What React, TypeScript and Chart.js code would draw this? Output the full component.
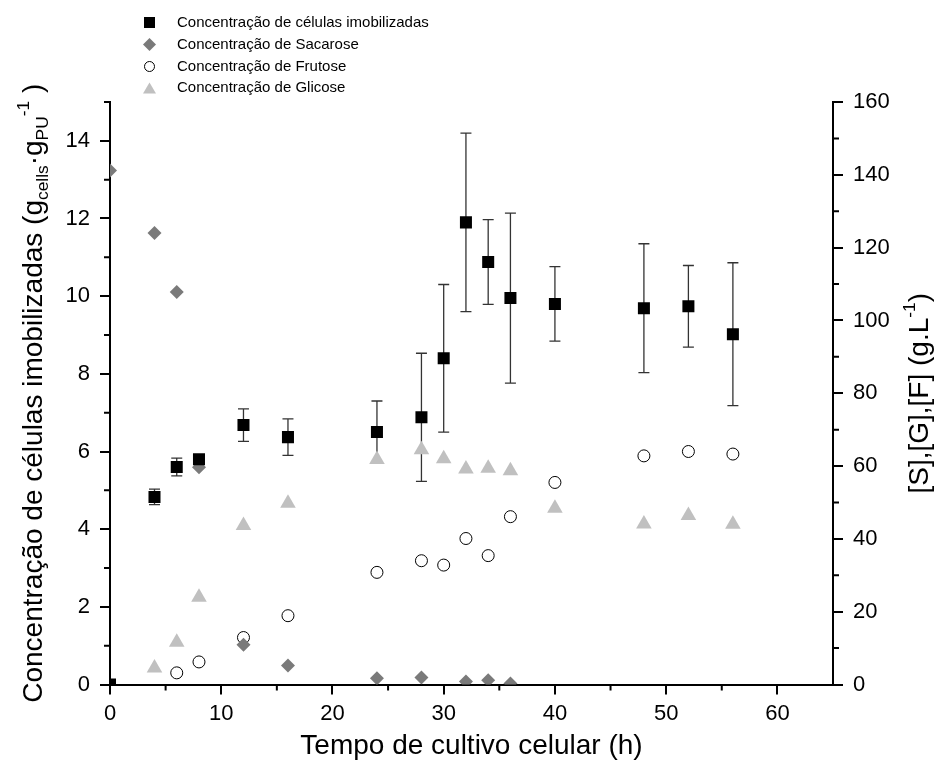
import React, { useEffect, useRef } from "react";
import { Chart, registerables } from "chart.js";

Chart.register(...registerables);

const FONT = 'Arial, "Liberation Sans", sans-serif';

// ---- data ----
const cellTimes = [0, 4, 6, 8, 12, 16, 24, 28, 30, 32, 34, 36, 40, 48, 52, 56];
const cellValues = [0, 4.83, 5.6, 5.8, 6.68, 6.37, 6.5, 6.88, 8.4, 11.9, 10.88, 9.95, 9.8, 9.69, 9.74, 9.02];
const cellErrors = [0, 0.2, 0.23, 0.1, 0.42, 0.47, 0.8, 1.65, 1.9, 2.3, 1.09, 2.19, 0.96, 1.66, 1.05, 1.84];

const sucroseTimes = [0, 4, 6, 8, 12, 16, 24, 28, 32, 34, 36];
const sucroseValues = [141.2, 124.0, 107.8, 59.7, 10.9, 5.2, 1.7, 1.9, 0.8, 1.2, 0.3];

const fructoseTimes = [6, 8, 12, 16, 24, 28, 30, 32, 34, 36, 40, 48, 52, 56];
const fructoseValues = [3.2, 6.2, 12.9, 18.9, 30.8, 34.0, 32.8, 40.1, 35.4, 46.1, 55.5, 62.8, 64.0, 63.3];

const glucoseTimes = [4, 6, 8, 12, 16, 24, 28, 30, 32, 34, 36, 40, 48, 52, 56];
const glucoseValues = [4.5, 11.6, 24.0, 43.7, 49.8, 61.8, 64.5, 62.0, 59.2, 59.4, 58.7, 48.4, 44.1, 46.4, 44.0];

const legendLabels = [
  "Concentração de células imobilizadas",
  "Concentração de Sacarose",
  "Concentração de Frutose",
  "Concentração de Glicose",
];

const xTitle = "Tempo de cultivo celular (h)";
const yTitleRuns = [
  { t: "Concentração de células imobilizadas (g" },
  { t: "cells", k: "sub" },
  { t: "·g" },
  { t: "PU", k: "sub" },
  { t: "-1", k: "sup" },
  { t: " )" },
];
const y1TitleRuns = [{ t: "[S],[G],[F] (g.L" }, { t: "-1", k: "sup" }, { t: ")" }];

const xMinorTicks = [5, 15, 25, 35, 45, 55];
const yMinorTicks = [1, 3, 5, 7, 9, 11, 13, 15];
const y1MinorTicks = [10, 30, 50, 70, 90, 110, 130, 150];

const toPoints = (xs: number[], ys: number[]) => xs.map((x, i) => ({ x, y: ys[i] }));

function drawRuns(ctx: CanvasRenderingContext2D, runs: any[], size: number) {
  let total = 0;
  const items = runs.map((r) => {
    const s = r.k ? size * 0.62 : size;
    ctx.font = `${s}px ${FONT}`;
    const w = ctx.measureText(r.t).width;
    total += w;
    return { ...r, s, w };
  });
  let x = -total / 2;
  ctx.textAlign = "left";
  ctx.textBaseline = "alphabetic";
  for (const it of items) {
    ctx.font = `${it.s}px ${FONT}`;
    const dy = it.k === "sub" ? size * 0.2 : it.k === "sup" ? -size * 0.45 : 0;
    ctx.fillText(it.t, x, dy);
    x += it.w;
  }
}

const errorBarPlugin = {
  id: "errorBars",
  beforeDatasetsDraw(chart: any) {
    const { ctx, chartArea } = chart;
    const xs = chart.scales.x;
    const ys = chart.scales.y;
    ctx.save();
    ctx.beginPath();
    ctx.rect(chartArea.left, chartArea.top, chartArea.right - chartArea.left, chartArea.bottom - chartArea.top);
    ctx.clip();
    ctx.strokeStyle = "#333";
    ctx.lineWidth = 1.3;
    cellTimes.forEach((t, i) => {
      const e = cellErrors[i];
      if (!e) return;
      const px = xs.getPixelForValue(t);
      const top = ys.getPixelForValue(cellValues[i] + e);
      const bot = ys.getPixelForValue(cellValues[i] - e);
      ctx.beginPath();
      ctx.moveTo(px, top);
      ctx.lineTo(px, bot);
      ctx.moveTo(px - 5.5, top);
      ctx.lineTo(px + 5.5, top);
      ctx.moveTo(px - 5.5, bot);
      ctx.lineTo(px + 5.5, bot);
      ctx.stroke();
    });
    ctx.restore();
  },
};

const decorPlugin = {
  id: "decor",
  afterDraw(chart: any) {
    const { ctx, chartArea } = chart;
    const xs = chart.scales.x;
    const ys = chart.scales.y;
    const y1s = chart.scales.y1;
    ctx.save();
    // minor ticks
    ctx.strokeStyle = "#000";
    ctx.lineWidth = 2;
    ctx.beginPath();
    xMinorTicks.forEach((v) => {
      const p = xs.getPixelForValue(v);
      ctx.moveTo(p, chartArea.bottom);
      ctx.lineTo(p, chartArea.bottom + 6);
    });
    yMinorTicks.forEach((v) => {
      const p = ys.getPixelForValue(v);
      ctx.moveTo(chartArea.left, p);
      ctx.lineTo(chartArea.left - 6, p);
    });
    y1MinorTicks.forEach((v) => {
      const p = y1s.getPixelForValue(v);
      ctx.moveTo(chartArea.right, p);
      ctx.lineTo(chartArea.right + 6, p);
    });
    ctx.stroke();

    ctx.fillStyle = "#000";
    // x title
    ctx.save();
    ctx.translate((chartArea.left + chartArea.right) / 2, 754);
    drawRuns(ctx, [{ t: xTitle }], 28);
    ctx.restore();
    // left title
    ctx.save();
    ctx.translate(42, (chartArea.top + chartArea.bottom) / 2);
    ctx.rotate(-Math.PI / 2);
    drawRuns(ctx, yTitleRuns, 28);
    ctx.restore();
    // right title
    ctx.save();
    ctx.translate(928, (chartArea.top + chartArea.bottom) / 2);
    ctx.rotate(-Math.PI / 2);
    drawRuns(ctx, y1TitleRuns, 28);
    ctx.restore();

    // legend
    const mx = 149.5;
    const tx = 177;
    const rows = [22.5, 44.5, 66.5, 88];
    ctx.font = `15px ${FONT}`;
    ctx.textAlign = "left";
    ctx.textBaseline = "middle";
    rows.forEach((ry, i) => {
      ctx.beginPath();
      if (i === 0) {
        ctx.fillStyle = "#000";
        ctx.fillRect(mx - 5.5, ry - 5.5, 11, 11);
      } else if (i === 1) {
        ctx.fillStyle = "#7a7a7a";
        ctx.moveTo(mx - 6.5, ry);
        ctx.lineTo(mx, ry - 6.5);
        ctx.lineTo(mx + 6.5, ry);
        ctx.lineTo(mx, ry + 6.5);
        ctx.closePath();
        ctx.fill();
      } else if (i === 2) {
        ctx.fillStyle = "#fff";
        ctx.strokeStyle = "#000";
        ctx.lineWidth = 1;
        ctx.arc(mx, ry, 5, 0, Math.PI * 2);
        ctx.fill();
        ctx.stroke();
      } else {
        ctx.fillStyle = "#c0c0c0";
        ctx.moveTo(mx - 6.5, ry + 5.5);
        ctx.lineTo(mx + 6.5, ry + 5.5);
        ctx.lineTo(mx, ry - 5.5);
        ctx.closePath();
        ctx.fill();
      }
      ctx.fillStyle = "#000";
      ctx.fillText(legendLabels[i], tx, ry);
    });
    ctx.restore();
  },
};

export default function App() {
  const ref = useRef<HTMLCanvasElement>(null);
  useEffect(() => {
    if (!ref.current) return;
    Chart.defaults.font.family = FONT;
    const chart = new Chart(ref.current, {
      type: "scatter",
      data: {
        datasets: [
          {
            label: legendLabels[0],
            data: toPoints(cellTimes, cellValues),
            yAxisID: "y",
            pointStyle: "rect",
            pointRadius: 8.5,
            backgroundColor: "#000",
            borderColor: "#000",
            borderWidth: 0,
            clip: 0,
          },
          {
            label: legendLabels[1],
            data: toPoints(sucroseTimes, sucroseValues),
            yAxisID: "y1",
            pointStyle: "rectRot",
            pointRadius: 7,
            backgroundColor: "#7a7a7a",
            borderColor: "#7a7a7a",
            borderWidth: 0,
            clip: 0,
          },
          {
            label: legendLabels[2],
            data: toPoints(fructoseTimes, fructoseValues),
            yAxisID: "y1",
            pointStyle: "circle",
            pointRadius: 6,
            backgroundColor: "#fff",
            borderColor: "#000",
            borderWidth: 1,
            clip: 0,
          },
          {
            label: legendLabels[3],
            data: toPoints(glucoseTimes, glucoseValues),
            yAxisID: "y1",
            pointStyle: "triangle",
            pointRadius: 9,
            backgroundColor: "#c0c0c0",
            borderColor: "#c0c0c0",
            borderWidth: 0,
            clip: 0,
          },
        ],
      },
      options: {
        responsive: false,
        devicePixelRatio: 1,
        animation: false,
        events: [],
        layout: { padding: { top: 102, left: 0, right: 0, bottom: 0 } },
        plugins: { legend: { display: false }, tooltip: { enabled: false } },
        scales: {
          x: {
            type: "linear",
            min: 0,
            max: 65,
            afterFit: (s: any) => {
              s.height = 92.5;
            },
            border: { display: true, color: "#000", width: 2 },
            grid: {
              drawOnChartArea: false,
              drawTicks: true,
              tickLength: 10,
              lineWidth: 2,
              tickColor: (c: any) => (c.tick && c.tick.value % 10 === 0 ? "#000" : "rgba(0,0,0,0)"),
            },
            ticks: {
              stepSize: 10,
              padding: 6,
              color: "#000",
              font: { size: 22, family: FONT },
              maxRotation: 0,
              callback: (v: any) => (v % 10 === 0 ? String(v) : ""),
            },
          },
          y: {
            type: "linear",
            position: "left",
            min: 0,
            max: 15,
            afterFit: (s: any) => {
              s.width = 110;
            },
            border: { display: true, color: "#000", width: 2 },
            grid: {
              drawOnChartArea: false,
              drawTicks: true,
              tickLength: 10,
              lineWidth: 2,
              tickColor: (c: any) => (c.tick && c.tick.value % 2 === 0 ? "#000" : "rgba(0,0,0,0)"),
            },
            ticks: {
              stepSize: 2,
              padding: 10,
              color: "#000",
              font: { size: 22, family: FONT },
              callback: (v: any) => (v % 2 === 0 ? String(v) : ""),
            },
          },
          y1: {
            type: "linear",
            position: "right",
            min: 0,
            max: 160,
            afterFit: (s: any) => {
              s.width = 107;
            },
            border: { display: true, color: "#000", width: 2 },
            grid: {
              drawOnChartArea: false,
              drawTicks: true,
              tickLength: 10,
              lineWidth: 2,
              tickColor: "#000",
            },
            ticks: {
              stepSize: 20,
              padding: 10,
              color: "#000",
              font: { size: 22, family: FONT },
            },
          },
        },
      },
      plugins: [errorBarPlugin, decorPlugin],
    } as any);
    return () => chart.destroy();
  }, []);
  return (
    <div style={{ position: "fixed", left: 0, top: 0, width: 940, height: 777, background: "#fff" }}>
      <canvas ref={ref} width={940} height={777} style={{ width: 940, height: 777, display: "block" }} />
    </div>
  );
}
